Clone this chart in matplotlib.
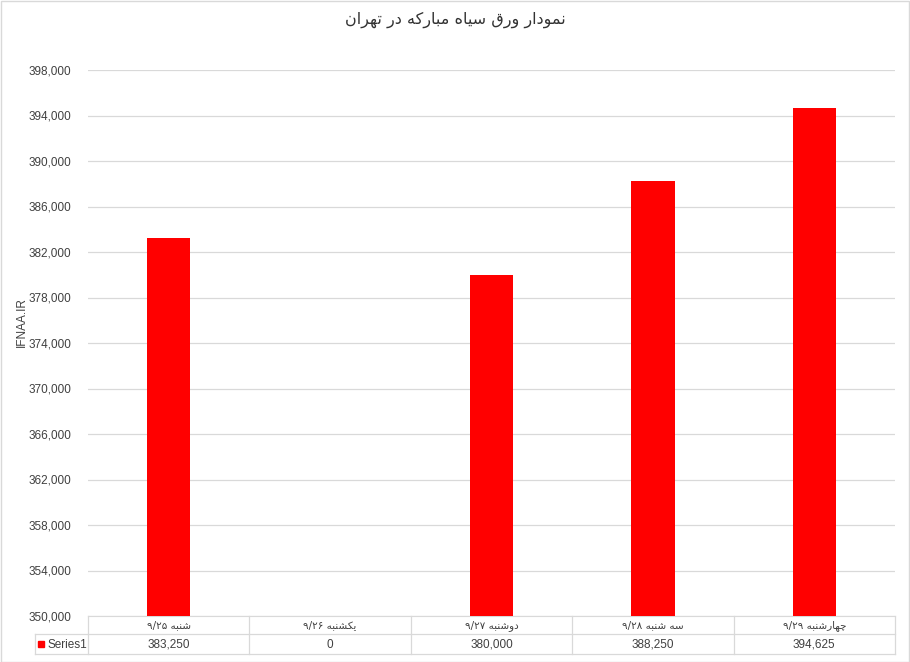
import matplotlib
matplotlib.use("Agg")
import matplotlib.pyplot as plt
import matplotlib.transforms as mtransforms
from matplotlib.lines import Line2D
from matplotlib.patches import Rectangle

# --- data ---
title = "نمودار ورق سیاه مبارکه در تهران"
categories = ["شنبه ۹/۲۵", "یکشنبه ۹/۲۶", "دوشنبه ۹/۲۷", "سه شنبه ۹/۲۸", "چهارشنبه ۹/۲۹"]
values = [383250, 0, 380000, 388250, 394625]
series_name = "Series1"
y_label = "IFNAA.IR"
y_ticks = list(range(350000, 398001, 4000))

# --- tiny Persian shaper (matplotlib has no text shaping) ---
# forms: isolated, final, initial, medial
FORMS = {
    "ا": ("\uFE8D", "\uFE8E", None, None),
    "ب": ("\uFE8F", "\uFE90", "\uFE91", "\uFE92"),
    "ت": ("\uFE95", "\uFE96", "\uFE97", "\uFE98"),
    "د": ("\uFEA9", "\uFEAA", None, None),
    "ر": ("\uFEAD", "\uFEAE", None, None),
    "س": ("\uFEB1", "\uFEB2", "\uFEB3", "\uFEB4"),
    "ش": ("\uFEB5", "\uFEB6", "\uFEB7", "\uFEB8"),
    "ق": ("\uFED5", "\uFED6", "\uFED7", "\uFED8"),
    "ک": ("\uFED9", "\uFEDA", "\uFEDB", "\uFEDC"),
    "م": ("\uFEE1", "\uFEE2", "\uFEE3", "\uFEE4"),
    "ن": ("\uFEE5", "\uFEE6", "\uFEE7", "\uFEE8"),
    "ه": ("\uFEE9", "\uFEEA", "\uFEEB", "\uFEEC"),
    "و": ("\uFEED", "\uFEEE", None, None),
    "ی": ("\uFEEF", "\uFEF0", "\uFEF3", "\uFEF4"),
    "چ": ("\uFB7A", "\uFB7B", "\uFB7C", "\uFB7D"),
}


def dual(c):
    return c in FORMS and FORMS[c][2] is not None


def shape(word):
    out = []
    for i, c in enumerate(word):
        if c not in FORMS:
            out.append(c)
            continue
        prev = word[i - 1] if i > 0 else ""
        nxt = word[i + 1] if i + 1 < len(word) else ""
        jp = dual(prev)
        jn = dual(c) and nxt in FORMS
        iso, fin, ini, med = FORMS[c]
        if jp and jn:
            out.append(med)
        elif jp:
            out.append(fin)
        elif jn:
            out.append(ini)
        else:
            out.append(iso)
    return "".join(out)


def fa(text):
    # split into number runs (kept LTR) and letter runs, then lay out right-to-left
    runs, cur, is_num = [], "", None
    for c in text:
        n = c in "۰۱۲۳۴۵۶۷۸۹/0123456789"
        if is_num is None or n == is_num:
            cur += c
        else:
            runs.append((cur, is_num))
            cur = c
        is_num = n
    runs.append((cur, is_num))
    vis = []
    for r, n in reversed(runs):
        vis.append(r if n else shape(r)[::-1])
    return "".join(vis)


FONT = ["Liberation Sans", "DejaVu Sans"]
plt.rcParams["font.family"] = FONT

W, H = 910, 662
fig = plt.figure(figsize=(W / 100, H / 100), dpi=100)
ax_left, ax_right, ax_top, ax_bot = 88, 895, 70, 616
ax = fig.add_axes([ax_left / W, 1 - ax_bot / H, (ax_right - ax_left) / W, (ax_bot - ax_top) / H])

grid_c = "#d9d9d9"
x = list(range(len(categories)))
ax.bar(x, values, width=0.27, color="#ff0000", zorder=3)
ax.set_xlim(-0.5, len(categories) - 0.5)
ax.set_ylim(y_ticks[0], y_ticks[-1])
ax.set_yticks(y_ticks)
ax.set_yticklabels([f"{v:,}" for v in y_ticks], fontsize=8.5, color="#404040")
ax.tick_params(axis="y", length=0, pad=12)
ax.set_xticks([])
ax.grid(axis="y", color=grid_c, linewidth=0.9, zorder=0)
for s in ["left", "right", "top"]:
    ax.spines[s].set_visible(False)
ax.spines["bottom"].set_color(grid_c)

fig.text(22 / W, 1 - 322 / H, y_label, rotation=90, ha="center", va="center",
         fontsize=8.5, color="#404040")
fig.text(0.5, 1 - 20 / H, fa(title), ha="center", va="center", fontsize=11.5,
         color="#333333", family="DejaVu Sans")

# --- data table under the axis ---
def fy(py):
    return 1 - py / H


def fx(px):
    return px / W


row1, row2, row3 = 616, 634, 654
table_left = 35
col_w = (ax_right - ax_left) / len(categories)
lw = 0.9
fig.add_artist(Line2D([fx(table_left), fx(ax_right)], [fy(row2), fy(row2)], color=grid_c, lw=lw))
fig.add_artist(Line2D([fx(table_left), fx(ax_right)], [fy(row3), fy(row3)], color=grid_c, lw=lw))
fig.add_artist(Line2D([fx(table_left), fx(table_left)], [fy(row2), fy(row3)], color=grid_c, lw=lw))
for k in range(len(categories) + 1):
    px = ax_left + k * col_w
    fig.add_artist(Line2D([fx(px), fx(px)], [fy(row1), fy(row3)], color=grid_c, lw=lw))

tr = mtransforms.blended_transform_factory(ax.transData, fig.transFigure)
for i, (cat, v) in enumerate(zip(categories, values)):
    ax.text(i, fy((row1 + row2) / 2 + 0.5), fa(cat), transform=tr, ha="center", va="center",
            fontsize=7.5, color="#404040", family="DejaVu Sans", clip_on=False)
    ax.text(i, fy((row2 + row3) / 2 + 0.5), f"{v:,}", transform=tr, ha="center", va="center",
            fontsize=8.5, color="#404040", clip_on=False)

fig.add_artist(Rectangle((fx(38), fy(647)), 6 / W, 6 / H, color="#ff0000", transform=fig.transFigure))
fig.text(fx(47), fy(644.5), series_name, ha="left", va="center", fontsize=8.5, color="#404040")

# chart border
fig.add_artist(Rectangle((0.5 / W, 0.5 / H), 1 - 1.5 / W, 1 - 1.5 / H, fill=False,
                         edgecolor=grid_c, lw=1, transform=fig.transFigure))

fig.savefig("out.png", dpi=100)
